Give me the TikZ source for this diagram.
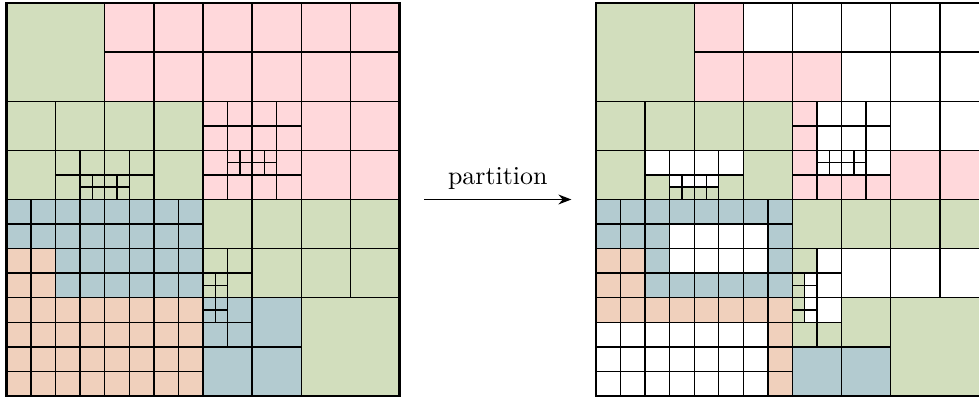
\documentclass[tikz,border=0pt]{standalone}
\usetikzlibrary{arrows.meta}
\definecolor{qgreen}{RGB}{210,222,189}
\definecolor{qpink}{RGB}{255,216,219}
\definecolor{qblue}{RGB}{179,203,208}
\definecolor{qorange}{RGB}{240,208,188}
\tikzset{
  cellbox/.style={draw=black, line width=0.55pt},
  outerbox/.style={draw=black, line width=0.8pt},
  maparrow/.style={line width=0.75pt, -{Stealth[length=5pt,width=3.8pt]}},
}
% cell: x, y measured from the top, size, fill colour
\newcommand{\qcell}[4]{\path[cellbox,fill=#4] (#1,{16-(#2)}) rectangle ++(#3,-#3);}
\begin{document}
\begin{tikzpicture}[x=1cm/3, y=1cm/3]
\clip (-0.265,-0.083) rectangle (39.595,16.122);
% ---------------- left square ----------------
\begin{scope}
\qcell{0}{0}{4}{qgreen}
\foreach \i in {4,6,...,14} \foreach \j in {0,2} {\qcell{\i}{\j}{2}{qpink}}
% green block A
\foreach \i/\j in {0/4,2/4,0/6} {\qcell{\i}{\j}{2}{qgreen}}
\foreach \i/\j in {2/6,3/6,2/7} {\qcell{\i}{\j}{1}{qgreen}}
\foreach \i/\j in {3/7,3.5/7,3/7.5,3.5/7.5} {\qcell{\i}{\j}{0.5}{qgreen}}
% green block B
\foreach \i/\j in {4/4,6/4,6/6} {\qcell{\i}{\j}{2}{qgreen}}
\foreach \i/\j in {4/6,5/6,5/7} {\qcell{\i}{\j}{1}{qgreen}}
\foreach \i/\j in {4/7,4.5/7,4/7.5,4.5/7.5} {\qcell{\i}{\j}{0.5}{qgreen}}
% pink block
\foreach \i in {8,...,11} \foreach \j in {4,...,7} {\qcell{\i}{\j}{1}{qpink}}
\foreach \i/\j in {9/6,9.5/6,9/6.5,9.5/6.5,10/6,10.5/6,10/6.5,10.5/6.5} {\qcell{\i}{\j}{0.5}{qpink}}
\foreach \i/\j in {12/4,14/4,12/6,14/6} {\qcell{\i}{\j}{2}{qpink}}
% row 2 grid
\foreach \i in {0,...,7} \foreach \j in {8,...,11} {\qcell{\i}{\j}{1}{qblue}}
\foreach \i/\j in {0/10,1/10,0/11,1/11} {\qcell{\i}{\j}{1}{qorange}}
% green block C
\foreach \i/\j in {8/8,10/8,10/10} {\qcell{\i}{\j}{2}{qgreen}}
\foreach \i/\j in {8/10,9/10,9/11} {\qcell{\i}{\j}{1}{qgreen}}
\foreach \i/\j in {8/11,8.5/11,8/11.5,8.5/11.5} {\qcell{\i}{\j}{0.5}{qgreen}}
\foreach \i/\j in {12/8,14/8,12/10,14/10} {\qcell{\i}{\j}{2}{qgreen}}
% row 3 grid
\foreach \i in {0,...,7} \foreach \j in {12,...,15} {\qcell{\i}{\j}{1}{qorange}}
% blue block D
\foreach \i/\j in {10/12,8/14,10/14} {\qcell{\i}{\j}{2}{qblue}}
\foreach \i/\j in {9/12,8/13,9/13} {\qcell{\i}{\j}{1}{qblue}}
\foreach \i/\j in {8/12,8.5/12,8/12.5,8.5/12.5} {\qcell{\i}{\j}{0.5}{qblue}}
\qcell{12}{12}{4}{qgreen}
\path[outerbox] (0,0) rectangle (16,16);
\end{scope}
% ---------------- arrow ----------------
\coordinate (arrowtail) at (17,8);
\coordinate (arrowhead) at (23,8);
\draw[maparrow] (arrowtail) -- node[above] {partition} (arrowhead);
% ---------------- right square ----------------
\begin{scope}[shift={(24,0)}]
\qcell{0}{0}{4}{qgreen}
\foreach \i/\j in {4/0,4/2,6/2,8/2} {\qcell{\i}{\j}{2}{qpink}}
\foreach \i/\j in {6/0,8/0,10/0,10/2,12/0,14/0,12/2,14/2} {\qcell{\i}{\j}{2}{white}}
% green block A
\foreach \i/\j in {0/4,2/4,0/6} {\qcell{\i}{\j}{2}{qgreen}}
\qcell{2}{6}{1}{white}\qcell{3}{6}{1}{white}\qcell{2}{7}{1}{qgreen}
\qcell{3}{7}{0.5}{white}\qcell{3.5}{7}{0.5}{white}
\qcell{3}{7.5}{0.5}{qgreen}\qcell{3.5}{7.5}{0.5}{qgreen}
% green block B
\foreach \i/\j in {4/4,6/4,6/6} {\qcell{\i}{\j}{2}{qgreen}}
\qcell{4}{6}{1}{white}\qcell{5}{6}{1}{white}\qcell{5}{7}{1}{qgreen}
\qcell{4}{7}{0.5}{white}\qcell{4.5}{7}{0.5}{white}
\qcell{4}{7.5}{0.5}{qgreen}\qcell{4.5}{7.5}{0.5}{qgreen}
% pink block
\foreach \j in {4,...,7} {\qcell{8}{\j}{1}{qpink}}
\foreach \i in {9,10,11} {\qcell{\i}{7}{1}{qpink}}
\foreach \i in {9,10,11} \foreach \j in {4,5,6} {\qcell{\i}{\j}{1}{white}}
\foreach \i/\j in {9/6,9.5/6,9/6.5,9.5/6.5,10/6,10.5/6,10/6.5,10.5/6.5} {\qcell{\i}{\j}{0.5}{white}}
\qcell{12}{4}{2}{white}\qcell{14}{4}{2}{white}
\qcell{12}{6}{2}{qpink}\qcell{14}{6}{2}{qpink}
% row 2 grid
\foreach \i in {0,...,7} \foreach \j in {8,...,11} {\qcell{\i}{\j}{1}{qblue}}
\foreach \i/\j in {0/10,1/10,0/11,1/11} {\qcell{\i}{\j}{1}{qorange}}
\foreach \i in {3,...,6} \foreach \j in {9,10} {\qcell{\i}{\j}{1}{white}}
% green block C
\qcell{8}{8}{2}{qgreen}\qcell{10}{8}{2}{qgreen}\qcell{10}{10}{2}{white}
\qcell{8}{10}{1}{qgreen}\qcell{9}{10}{1}{white}\qcell{9}{11}{1}{white}
\qcell{8}{11}{0.5}{qgreen}\qcell{8.5}{11}{0.5}{white}
\qcell{8}{11.5}{0.5}{qgreen}\qcell{8.5}{11.5}{0.5}{white}
\qcell{12}{8}{2}{qgreen}\qcell{14}{8}{2}{qgreen}
\qcell{12}{10}{2}{white}\qcell{14}{10}{2}{white}
% row 3 grid
\foreach \i in {0,...,7} {\qcell{\i}{12}{1}{qorange}}
\foreach \j in {13,14,15} {\qcell{7}{\j}{1}{qorange}}
\foreach \i in {0,...,6} \foreach \j in {13,14,15} {\qcell{\i}{\j}{1}{white}}
% block D
\qcell{10}{12}{2}{qgreen}\qcell{8}{14}{2}{qblue}\qcell{10}{14}{2}{qblue}
\qcell{9}{12}{1}{white}\qcell{8}{13}{1}{qgreen}\qcell{9}{13}{1}{qgreen}
\qcell{8}{12}{0.5}{qgreen}\qcell{8.5}{12}{0.5}{white}
\qcell{8}{12.5}{0.5}{qgreen}\qcell{8.5}{12.5}{0.5}{white}
\qcell{12}{12}{4}{qgreen}
\path[outerbox] (0,0) rectangle (16,16);
\end{scope}
\end{tikzpicture}
\end{document}
